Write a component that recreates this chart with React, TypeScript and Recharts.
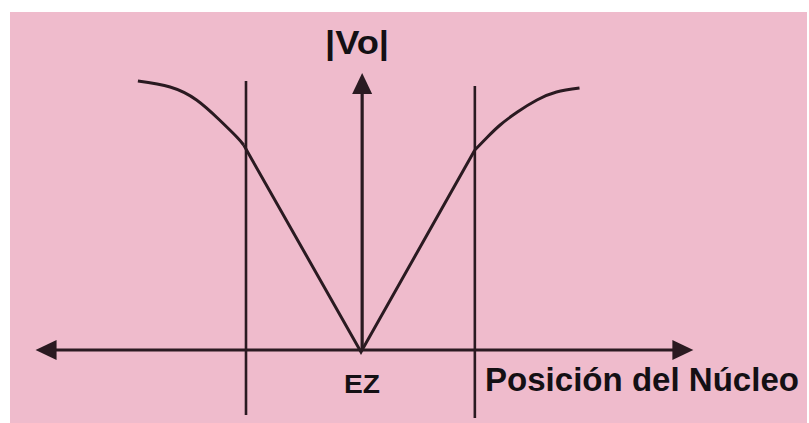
import { ComposedChart, Line, XAxis, YAxis, ReferenceLine } from "recharts";

// position along the nucleus, EZ = 0, boundaries near -1 / +1
const leftShoulderPos = [-1.94, -1.66, -1.43, -1.23, -1.08, -1.02];
const leftShoulderVo = [2.69, 2.63, 2.5, 2.3, 2.13, 2.05];
const veePos = [-1.02, 0, 0.99];
const veeVo = [2.05, -0.02, 2.0];
const rightShoulderPos = [0.99, 1.1, 1.21, 1.36, 1.53, 1.7, 1.9];
const rightShoulderVo = [2.0, 2.13, 2.25, 2.38, 2.5, 2.58, 2.62];

// boundary markers (vertical lines)
const boundaryPos = [-1.0, 0.99];
const boundaryTop = [2.69, 2.64];
const boundaryBottom = [-0.65, -0.68];

// axis arrow extents
const axisLeft = -2.83;
const axisRight = 2.89;
const axisTop = 2.77;

const toRows = (pos: number[], vo: number[]) => pos.map((p, i) => ({ pos: p, vo: vo[i] }));
const leftData = toRows(leftShoulderPos, leftShoulderVo);
const veeData = toRows(veePos, veeVo);
const rightData = toRows(rightShoulderPos, rightShoulderVo);

const INK = "#2a1a21";

const arrowHead = (tx: number, ty: number, dx: number, dy: number, len = 21, half = 10) => {
  const bx = tx - dx * len;
  const by = ty - dy * len;
  const nx = -dy;
  const ny = dx;
  return `${tx},${ty} ${bx + nx * half},${by + ny * half} ${bx - nx * half},${by - ny * half}`;
};

const ArrowShape = ({ x1, y1, x2, y2, both }: any) => {
  const len = Math.hypot(x2 - x1, y2 - y1) || 1;
  const dx = (x2 - x1) / len;
  const dy = (y2 - y1) / len;
  const sx = both ? x1 + dx * 18 : x1;
  const sy = both ? y1 + dy * 18 : y1;
  return (
    <g>
      <line x1={sx} y1={sy} x2={x2 - dx * 18} y2={y2 - dy * 18} stroke={INK} strokeWidth={3.2} />
      <polygon points={arrowHead(x2, y2, dx, dy)} fill={INK} />
      {both && <polygon points={arrowHead(x1, y1, -dx, -dy)} fill={INK} />}
    </g>
  );
};

export default function App() {
  return (
    <div style={{ position: "absolute", left: 0, top: 0, width: 809, height: 423, background: "#fff" }}>
      <div style={{ position: "absolute", left: 10, top: 12, width: 797, height: 411, background: "#efbbcc" }} />
      <div style={{ position: "absolute", left: 0, top: 0 }}>
        <ComposedChart width={809} height={423} margin={{ top: 0, right: 103, bottom: 0, left: 16 }}>
          <XAxis type="number" dataKey="pos" domain={[-3, 3]} hide allowDataOverflow />
          <YAxis type="number" dataKey="vo" domain={[-0.73, 3.5]} hide allowDataOverflow />
          <ReferenceLine
            segment={[{ x: axisRight, y: 0 }, { x: axisLeft, y: 0 }]}
            shape={(p: any) => <ArrowShape {...p} x1={p.x2} y1={p.y2} x2={p.x1} y2={p.y1} both />}
          />
          {boundaryPos.map((x, i) => (
            <ReferenceLine
              key={i}
              segment={[{ x, y: boundaryTop[i] }, { x, y: boundaryBottom[i] }]}
              stroke={INK}
              strokeWidth={2.6}
            />
          ))}
          <ReferenceLine
            segment={[{ x: 0.01, y: 0 }, { x: 0.01, y: axisTop }]}
            shape={(p: any) => <ArrowShape {...p} />}
          />
          <Line data={leftData} dataKey="vo" type="natural" stroke={INK} strokeWidth={3} dot={false} isAnimationActive={false} />
          <Line data={veeData} dataKey="vo" type="linear" stroke={INK} strokeWidth={3} dot={false} isAnimationActive={false} />
          <Line data={rightData} dataKey="vo" type="natural" stroke={INK} strokeWidth={3} dot={false} isAnimationActive={false} />
        </ComposedChart>
      </div>
      <svg width={809} height={423} style={{ position: "absolute", left: 0, top: 0, pointerEvents: "none" }}>
        <g fontFamily="'Liberation Sans', Arial, sans-serif" fontWeight="bold" fill="#141014">
          <text x={357} y={54} fontSize={34} textAnchor="middle" textLength={64} lengthAdjust="spacingAndGlyphs">|Vo|</text>
          <text x={362} y={393} fontSize={26} textAnchor="middle" textLength={36} lengthAdjust="spacingAndGlyphs">EZ</text>
          <text x={485} y={391} fontSize={33} textLength={314} lengthAdjust="spacingAndGlyphs">Posición del Núcleo</text>
        </g>
      </svg>
    </div>
  );
}
